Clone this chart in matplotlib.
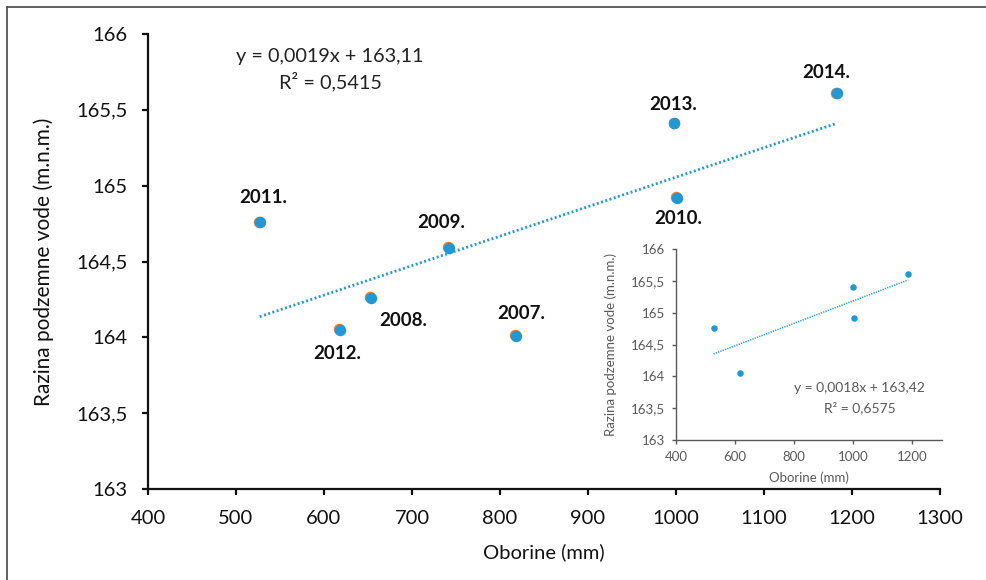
import matplotlib
matplotlib.use("Agg")
import matplotlib.pyplot as plt
import matplotlib.transforms as mtransforms
from matplotlib.ticker import FuncFormatter, MultipleLocator
import numpy as np

plt.rcParams['font.family'] = ['Lato', 'DejaVu Sans']

# main data (oborine mm, razina m.n.m.)
years = ["2007.", "2008.", "2009.", "2010.", "2011.", "2012.", "2013.", "2014."]
oborine = [818, 653, 742, 1001, 527, 618, 998, 1183]
razina = [164.01, 164.26, 164.59, 164.92, 164.76, 164.05, 165.41, 165.61]
# label offsets in pixels (dx, dy)
label_off = [(5, 22), (33, -23), (-8, 25), (1, -21), (3, 25), (-3, -24), (-1, 19), (-11, 21)]

# inset data
ins_oborine = [527, 618, 998, 1003, 1185]
ins_razina = [164.76, 164.05, 165.41, 164.92, 165.61]

blue = "#1f98d8"
orange = "#f07a2a"
gray = "#595959"

fig = plt.figure(figsize=(9.87, 5.80), dpi=100)

# outer frame (top and left visible)
fig.add_artist(plt.Line2D([7/987, 1], [1 - 7/580, 1 - 7/580], transform=fig.transFigure, color="#555555", lw=1.3))
fig.add_artist(plt.Line2D([7/987, 7/987], [0, 1 - 7/580], transform=fig.transFigure, color="#555555", lw=1.3))

ax = fig.add_axes([148/987, 1 - 489/580, (940 - 148)/987, (489 - 34)/580])
comma = FuncFormatter(lambda v, p: f"{v:g}".replace(".", ","))

# linear trend
k, b = np.polyfit(oborine, razina, 1)
xs = np.array([min(oborine), max(oborine)])
ax.plot(xs, k * xs + b, color=blue, lw=2.0, ls=(0, (0.7, 0.9)), zorder=2)

off = mtransforms.offset_copy(ax.transData, fig=fig, x=-0.4, y=0.4, units="points")
ax.scatter(oborine, razina, s=68, color=orange, transform=off, zorder=3, linewidths=0)
ax.scatter(oborine, razina, s=68, color=blue, zorder=4, linewidths=0)

for yr, xv, yv, (dx, dy) in zip(years, oborine, razina, label_off):
    ax.annotate(yr, (xv, yv), xytext=(dx * 0.72, dy * 0.72), textcoords="offset points",
                ha="center", va="center", fontsize=13.5, fontweight="bold", color="#111111")

ax.text(0.23, 0.95, f"y = {k:.4f}x + {b:.2f}".replace(".", ","), transform=ax.transAxes,
        ha="center", va="center", fontsize=14.3, color="#222222")
ax.text(0.23, 0.895, "R² = 0,5415", transform=ax.transAxes, ha="center", va="center",
        fontsize=14.3, color="#222222")

ax.set_xlim(400, 1300)
ax.set_ylim(163, 166)
ax.xaxis.set_major_locator(MultipleLocator(100))
ax.yaxis.set_major_locator(MultipleLocator(0.5))
ax.yaxis.set_major_formatter(comma)
for s in ["top", "right"]:
    ax.spines[s].set_visible(False)
for s in ["left", "bottom"]:
    ax.spines[s].set_linewidth(1.6)
    ax.spines[s].set_color("#111111")
ax.tick_params(direction="out", length=4.5, width=1.6, labelsize=14.5, colors="#111111")
ax.tick_params(axis="x", pad=10.5)
ax.tick_params(axis="y", pad=10)
ax.set_xlabel("Oborine (mm)", fontsize=14.5, labelpad=12, color="#111111")
ax.set_ylabel("Razina podzemne vode (m.n.m.)", fontsize=15, labelpad=16, color="#111111")

# inset
ia = fig.add_axes([676/987, 1 - 440/580, (942 - 676)/987, (440 - 249)/580])
ia.patch.set_alpha(0)
ik, ib = np.polyfit(ins_oborine, ins_razina, 1)
ixs = np.array([min(ins_oborine), max(ins_oborine)])
ia.plot(ixs, ik * ixs + ib, color=blue, lw=1.1, ls=(0, (0.8, 0.8)), zorder=2)
ia.scatter(ins_oborine, ins_razina, s=22, color=blue, linewidths=0, zorder=3)
ia.text(0.69, 0.27, f"y = {ik:.4f}x + {ib:.2f}".replace(".", ","), transform=ia.transAxes,
        ha="center", va="center", fontsize=10, color=gray)
ia.text(0.69, 0.17, "R² = 0,6575", transform=ia.transAxes, ha="center", va="center",
        fontsize=10, color=gray)
ia.set_xlim(400, 1300)
ia.set_ylim(163, 166)
ia.xaxis.set_major_locator(MultipleLocator(200))
ia.yaxis.set_major_locator(MultipleLocator(0.5))
ia.yaxis.set_major_formatter(comma)
for s in ["top", "right"]:
    ia.spines[s].set_visible(False)
for s in ["left", "bottom"]:
    ia.spines[s].set_linewidth(1.0)
    ia.spines[s].set_color(gray)
ia.tick_params(direction="out", length=3, width=1.0, labelsize=9.5, colors=gray, pad=5)
ia.set_xlabel("Oborine (mm)", fontsize=9.5, color=gray, labelpad=6)
ia.set_ylabel("Razina podzemne vode (m.n.m.)", fontsize=9.5, color=gray, labelpad=10)

fig.savefig("out.png", dpi=100)
